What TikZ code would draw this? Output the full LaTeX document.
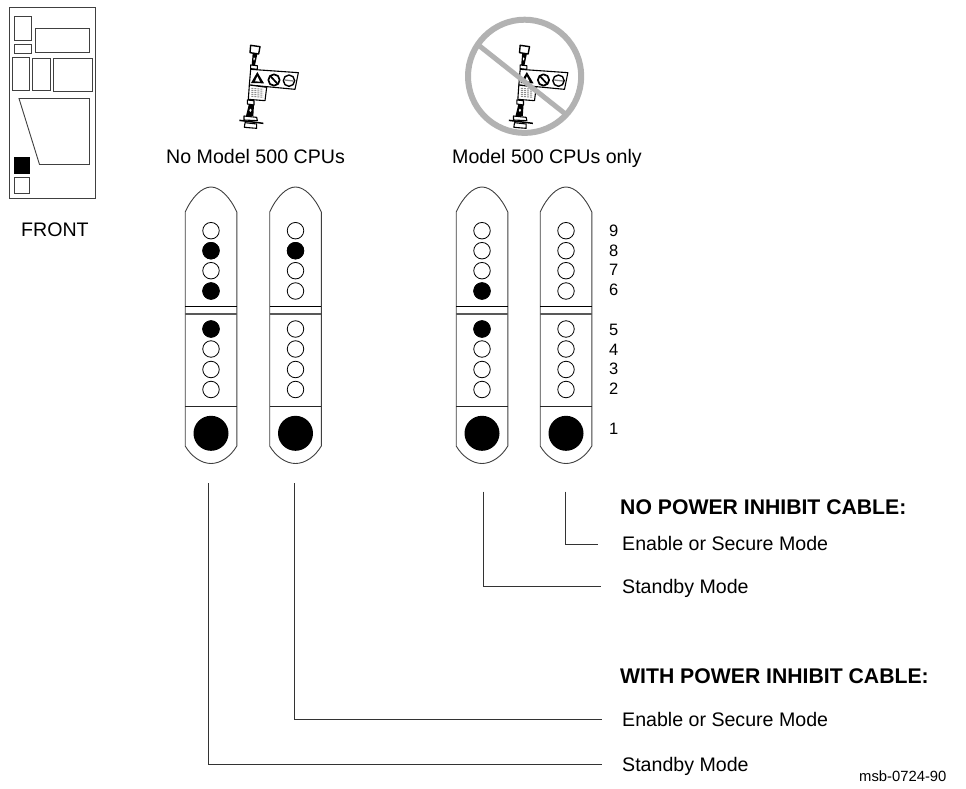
\documentclass[tikz,border=0pt]{standalone}
\usepackage{fontspec}
\setmainfont{Liberation Sans}
\tikzset{
 x=1pt,y=-1pt,
 lab/.style={font=\fontsize{19.6}{22}\selectfont,inner sep=0pt,anchor=base west},
 headlab/.style={lab,font=\fontsize{21.2}{24}\selectfont\bfseries},
 num/.style={font=\fontsize{16.5}{18}\selectfont,inner sep=0pt,anchor=base west},
 hole/.style={circle,draw=black,line width=0.8pt,fill=white,minimum size=16.5pt,inner sep=0pt},
 on/.style={fill=black},
 big/.style={circle,fill=black,minimum size=35pt,inner sep=0pt},
 pan/.style={draw=black!75,line width=0.9pt,fill=white},
 conn/.style={draw=black!80,line width=0.8pt},
 box/.style={draw=black!75,line width=0.9pt,fill=white},
 cab/.style={draw=black,line width=1.1pt,fill=white},
}
% #1 name, #2 centre x
\newcommand{\ledpanel}[2]{%
 \begin{scope}[shift={(#2,0)}]
 \draw[pan] (-25.8,212) .. controls (-19,197) and (-9,187) .. (0,187) .. controls (9,187) and (19,197) .. (25.8,212)
   -- (25.8,446) .. controls (20,456) and (10,463.5) .. (0,463.5) .. controls (-10,463.5) and (-20,456) .. (-25.8,446) -- cycle;
 \draw[black,line width=0.8pt] (-25.8,306) -- (25.8,306);
 \draw[black!65,line width=1.2pt] (-25.8,314) -- (25.8,314);
 \draw[black!85,line width=0.8pt] (-25.8,406) -- (25.8,406);
 \coordinate (#1) at (0,463.5);
 \end{scope}}
% #1 shift x, #2 shift y; drawing units are 1/3 pixel
\newcommand{\cablepic}[2]{%
 \begin{scope}[shift={(#1,#2)},scale=1/3,line join=round]
 \draw[cab,line width=1.4pt] (152,46) -- (180,50) -- (176,72) -- (150,68) -- cycle;
 \fill[black] (158,70) -- (172,72) -- (165,106) -- (155,106) -- cycle;
 \fill[white] (162,82) -- (165,86) -- (162,92) -- (160,87) -- cycle;
 \draw[cab] (152,105) -- (172,107) -- (172,118) -- (152,116) -- cycle;
 \draw[cab] (152,118) -- (295,128) -- (285,178) -- (148,165) -- cycle;
 \draw[cab] (148,165) -- (200,172) -- (195,212) -- (145,208) -- cycle;
 \foreach \yy in {175,181,187,193,199} \draw[black!45,line width=1pt,dash pattern=on 2pt off 1pt] (154,\yy) -- (190,\yy+3);
 \fill[black] (172,126) -- (192,160) -- (153,159) -- cycle;
 \fill[white] (172,139) -- (180,155) -- (165,154) -- cycle;
 \draw[black,line width=1.7pt] (222,150) circle (17);
 \draw[black,line width=1.7pt] (211,138) -- (233,162);
 \draw[black,line width=1.4pt] (267,152) circle (17);
 \draw[black!50,line width=1.3pt] (254,150) -- (280,153);
 \draw[cab] (142,210) -- (162,212) -- (162,225) -- (142,222) -- cycle;
 \fill[black] (146,225) -- (162,225) -- (160,258) -- (138,258) -- cycle;
 \fill[white] (151,236) -- (155,240) -- (151,246) -- (148,241) -- cycle;
 \draw[cab] (132,258) -- (170,262) -- (172,272) -- (132,270) -- cycle;
 \draw[cab] (135,278) -- (170,282) -- (170,295) -- (133,292) -- cycle;
 \draw[black,line width=1.5pt] (118,271) -- (190,280);
 \end{scope}}
\begin{document}
\begin{tikzpicture}
\useasboundingbox (0,0) rectangle (966,789);
\fill[white] (0,0) rectangle (966,789);
% chassis
\draw[box,fill=none] (9.5,7.5) rectangle (95.5,198);
\draw[box] (14.7,16.5) rectangle (31.5,40);
\draw[box] (14.7,44.5) rectangle (31,53);
\draw[box] (35,28) rectangle (89.5,52);
\draw[box] (12.7,57.5) rectangle (29.5,90);
\draw[box] (32.5,58) rectangle (50,90.5);
\draw[box] (53,58.5) rectangle (92.7,91);
\draw[box] (19,98.5) -- (89.5,98.5) -- (89.5,164.5) -- (39.5,164.5) -- cycle;
\fill[black] (14,157) rectangle (29.5,174);
\draw[box] (14.5,177.5) rectangle (29,193.5);
\node[lab] (front) at (21,236.5) {FRONT};
% cable icons
\cablepic{200}{30}
\cablepic{469.5}{30}
% prohibition sign
\draw[black!30,line width=6pt] (524.6,76.3) circle (56.6);
\draw[black!30,line width=5pt] (478.3,45) -- (566.7,115);
\node[lab] (t1) at (166,163) {No Model 500 CPUs};
\node[lab] (t2) at (452,163) {Model 500 CPUs only};
% panels
\ledpanel{pa}{211}
\ledpanel{pb}{295.5}
\ledpanel{pc}{482}
\ledpanel{pd}{566}
\foreach \n/\x in {a/211,b/295.5,c/482,d/566}{
 \foreach \i/\y in {1/230.7,2/250.7,3/270.7,4/291,5/329,6/349,7/369.5,8/389.5}
  \node[hole] (\n\i) at (\x,\y) {};
 \node[big] (\n big) at (\x,433.3) {};
}
\foreach \n in {a2,a4,a5,b2,c4,c5} \node[hole,on] at (\n) {};
% numbers
\foreach \lbl/\y in {9/236,8/256,7/275,6/295,5/335.5,4/355,3/374,2/394,1/434}
 \node[num] (n\lbl) at (609,\y) {\lbl};
% labels
\node[headlab] (h1) at (620,514.5) {NO POWER INHIBIT CABLE:};
\node[lab] (l1) at (622,550) {Enable or Secure Mode};
\node[lab] (l2) at (622,593) {Standby Mode};
\node[headlab] (h2) at (620,683) {WITH POWER INHIBIT CABLE:};
\node[lab] (l3) at (622,726.5) {Enable or Secure Mode};
\node[lab] (l4) at (622,771) {Standby Mode};
\node[lab,font=\fontsize{14.8}{17}\selectfont] (ref) at (859,781) {msb-0724-90};
% connectors
\coordinate (ea) at (602,764.5);
\coordinate (eb) at (602,719.5);
\coordinate (ec) at (601,586.5);
\coordinate (ed) at (598,544);
\coordinate (sa) at (208.5,483);
\coordinate (sb) at (294.5,483);
\coordinate (sc) at (483,491.5);
\coordinate (sd) at (565.7,491.5);
\draw[conn] (sa) |- (ea);
\draw[conn] (sb) |- (eb);
\draw[conn] (sc) |- (ec);
\draw[conn] (sd) |- (ed);
\end{tikzpicture}
\end{document}
